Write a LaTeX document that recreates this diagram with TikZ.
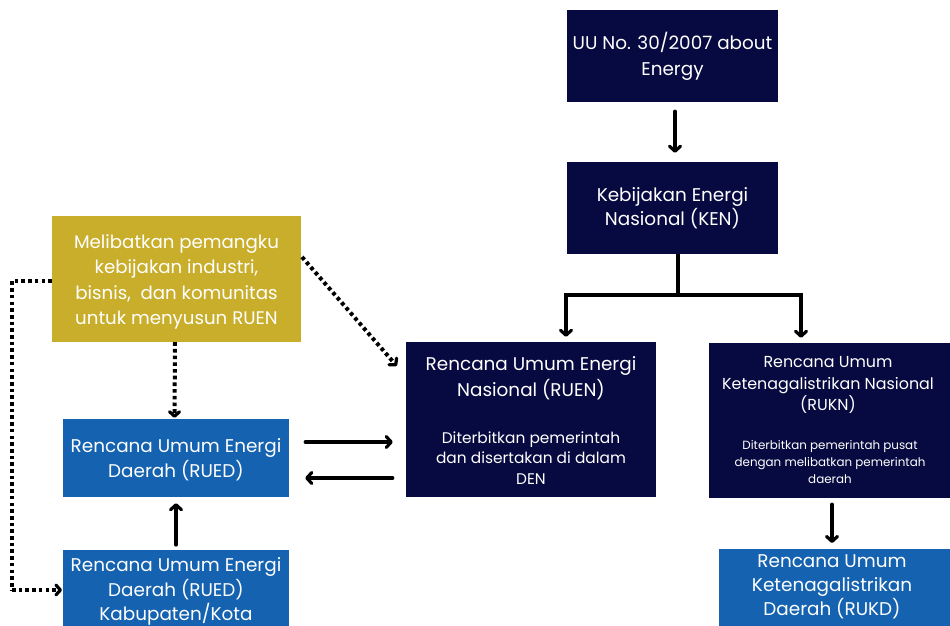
\documentclass[tikz,border=0pt]{standalone}
\usepackage{fontspec}
\setmainfont{Poppins}
\usetikzlibrary{arrows.meta}
\definecolor{navy}{HTML}{070A40}
\definecolor{bluebox}{HTML}{1462B0}
\definecolor{gold}{HTML}{C9AE2C}
\tikzset{
  box/.style={rectangle, inner sep=0pt, text=white, align=center},
  navybox/.style={box, fill=navy},
  bluefill/.style={box, fill=bluebox},
  goldbox/.style={box, fill=gold},
  txt/.style={inner sep=0pt, text=white, align=center},
  conn/.style={line width=3.2pt, line cap=round, -{Straight Barb[length=5pt,width=11pt,round]}},
  plain/.style={line width=3.2pt},
  dots/.style={line width=4pt, dash pattern=on 3.6pt off 3.1pt},
  dotarrow/.style={dots, -{Straight Barb[length=4.5pt,width=10pt,round,line width=3.2pt]}},
}
\begin{document}
\begin{tikzpicture}[x=1pt,y=-1pt]
\useasboundingbox (0,0) rectangle (950,625);
\clip (0,0) rectangle (950,625);
\fill[white] (0,0) rectangle (950,625);

% boxes
\node[navybox, minimum width=211pt, minimum height=92pt, font=\fontsize{18.4}{26}\selectfont] (uu) at (672.5,56) {UU No. 30/2007 about\\Energy};
\node[navybox, minimum width=211pt, minimum height=92pt, font=\fontsize{18.4}{24}\selectfont] (ken) at (672.5,208) {Kebijakan Energi\\Nasional (KEN)};
\node[navybox, minimum width=250pt, minimum height=155pt] (ruen) at (531,419.5) {};
\node[txt, font=\fontsize{18.4}{26}\selectfont] (ruent) at (531,378) {Rencana Umum Energi\\Nasional (RUEN)};
\node[txt, font=\fontsize{15.4}{20.5}\selectfont] (ruens) at (531,458) {Diterbitkan pemerintah\\dan disertakan di dalam\\DEN};
\node[navybox, minimum width=241pt, minimum height=155pt] (rukn) at (829.5,420.5) {};
\node[txt, font=\fontsize{15.9}{21.5}\selectfont] (ruknt) at (828,385) {Rencana Umum\\Ketenagalistrikan Nasional\\(RUKN)};
\node[txt, font=\fontsize{11.9}{17}\selectfont] (rukns) at (830,462.5) {Diterbitkan pemerintah pusat\\dengan melibatkan pemerintah\\daerah};
\node[bluefill, minimum width=231pt, minimum height=120pt, anchor=north west] (rukd) at (719,549) {};
\node[txt, font=\fontsize{18.4}{24}\selectfont] (rukdt) at (832,586.5) {Rencana Umum\\Ketenagalistrikan\\Daerah (RUKD)};
\node[goldbox, minimum width=249pt, minimum height=126pt] (melibat) at (176.5,279) {};
\node[txt, font=\fontsize{18.2}{25.3}\selectfont] (melibatt) at (176.5,282) {Melibatkan pemangku\\kebijakan industri,\\bisnis,~ dan komunitas\\untuk menyusun RUEN};
\node[bluefill, minimum width=226pt, minimum height=78pt] (rued) at (176,458) {};
\node[txt, font=\fontsize{18.4}{25}\selectfont] (ruedt) at (176,460) {Rencana Umum Energi\\Daerah (RUED)};
\node[bluefill, minimum width=226pt, minimum height=120pt, anchor=north west] (ruedk) at (63,550) {};
\node[txt, font=\fontsize{18.4}{24.5}\selectfont] (ruedkt) at (176,591.5) {Rencana Umum Energi\\Daerah (RUED)\\Kabupaten/Kota};

% solid connectors
\draw[conn] ([xshift=2.5pt,yshift=-9pt]uu.south) -- ([xshift=2.5pt,yshift=9pt]ken.north);
\coordinate (split) at (678,295);
\coordinate (sl) at (566,295);
\coordinate (sr) at (801,295);
\draw[plain] (ken.south -| split) -- (split);
\draw[plain, line cap=rect] (sl) -- (sr);
\draw[conn, line cap=butt] (sl) -- ([yshift=5pt]sl |- ruen.north);
\draw[conn, line cap=butt] (sr) -- ([yshift=5pt]sr |- rukn.north);
\draw[conn] ([yshift=-6pt]rukn.south -| 832,0) -- ([yshift=6pt]rukd.north -| 832,0);
\draw[conn] ([xshift=16pt]rued.east |- 0,442) -- ([xshift=-13pt]ruen.west |- 0,442);
\draw[conn] ([xshift=-13pt]ruen.west |- 0,478) -- ([xshift=16pt]rued.east |- 0,478);
\draw[conn] ([yshift=5pt]ruedk.north -| 176,0) -- ([yshift=-6pt]rued.south -| 176,0);

% dotted connectors
\coordinate (dl1) at (12,281);
\coordinate (dl2) at (12,590);
\draw[dots] (melibat.west |- dl1) -- (dl1) -- (dl2);
\draw[dotarrow] (dl2) -- ([xshift=-1pt]ruedk.west |- dl2);
\draw[dotarrow] ([xshift=-1.5pt]melibat.south) -- ([xshift=-1.5pt,yshift=1pt]rued.north);
\draw[dotarrow] (302,257) -- ([xshift=-9pt]ruen.west |- 0,366);
\end{tikzpicture}
\end{document}
